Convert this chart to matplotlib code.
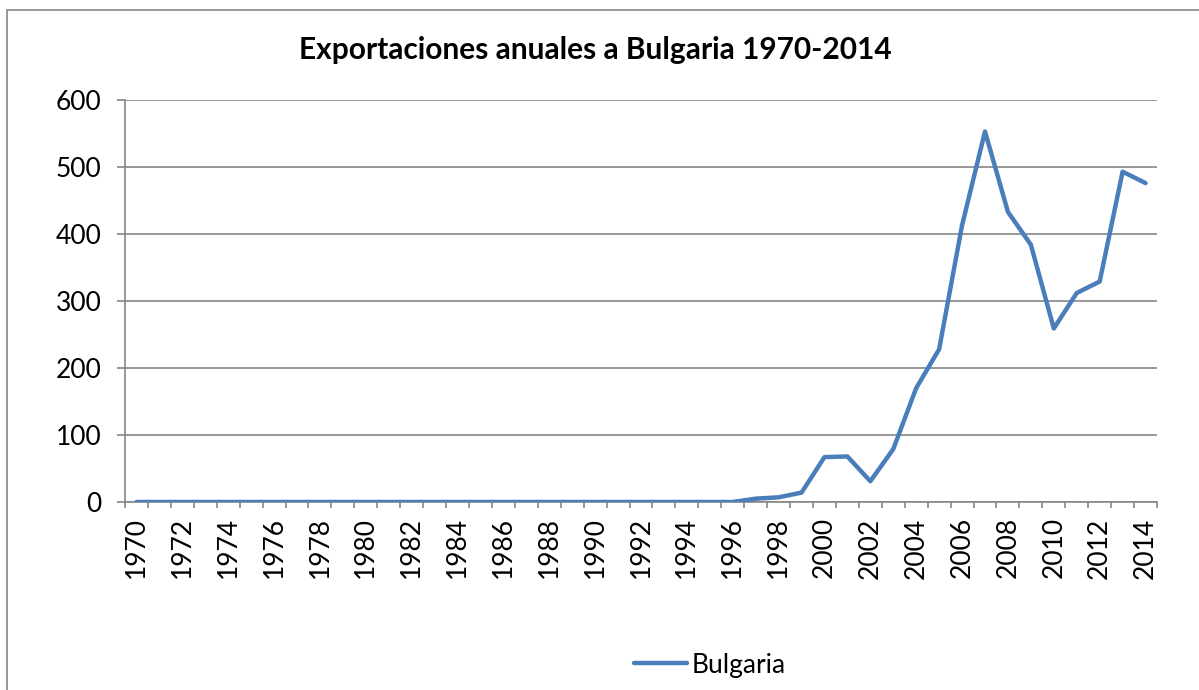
"""
Exportaciones anuales a Bulgaria 1970-2014 - line chart (Excel style)
"""

import matplotlib
matplotlib.use("Agg")
import matplotlib.pyplot as plt
from matplotlib.patches import Rectangle

# ─────────────────────────────────────────────
# Data
# ─────────────────────────────────────────────
years = list(range(1970, 2015))
exports = [0] * 27 + [          # 1970-1996
    5, 7, 14,                   # 1997-1999
    67, 68, 31, 79, 170,        # 2000-2004
    228, 413, 553, 433, 384,    # 2005-2009
    259, 312, 329, 493, 476,    # 2010-2014
]
series_name = "Bulgaria"
title = "Exportaciones anuales a Bulgaria 1970-2014"
y_ticks = [0, 100, 200, 300, 400, 500, 600]

plt.rcParams["font.family"] = ["Lato", "DejaVu Sans"]
GREY = "#868686"

# ─────────────────────────────────────────────
# Figure
# ─────────────────────────────────────────────
fig = plt.figure(figsize=(11.99, 6.90), dpi=100)
ax = fig.add_axes([125 / 1199, 1 - 502 / 690, (1157 - 125) / 1199, (502 - 100) / 690])

# chart border (right and bottom edges fall outside the picture)
fig.patches.append(Rectangle((7 / 1199, -0.1), 1.2, 1 - 10 / 690 + 0.1,
                             transform=fig.transFigure, fill=False,
                             edgecolor=GREY, linewidth=1.2))

x = list(range(len(years)))
ax.plot(x, exports, color="#4A7EBB", linewidth=3.2, solid_joinstyle="round",
        solid_capstyle="round", label=series_name, zorder=3)

ax.set_xlim(-0.5, len(years) - 0.5)
ax.set_ylim(0, 600)
ax.set_yticks(y_ticks)
ax.yaxis.grid(True, color=GREY, linewidth=1.2)
ax.set_axisbelow(True)

# category labels every 2 years, tick marks between categories
ax.set_xticks(x[::2])
ax.set_xticklabels([str(y) for y in years[::2]], rotation=90)
ax.set_xticks([i - 0.5 for i in range(len(years) + 1)], minor=True)
ax.tick_params(axis="x", which="major", length=0, pad=11, labelsize=19)
ax.tick_params(axis="x", which="minor", length=4.5, width=1.2, color=GREY, direction="out")
ax.tick_params(axis="y", length=5.8, width=1.2, color=GREY, pad=11, labelsize=19)

for side in ("top", "right"):
    ax.spines[side].set_visible(False)
for side in ("left", "bottom"):
    ax.spines[side].set_color(GREY)
    ax.spines[side].set_linewidth(1.2)

fig.text(595 / 1199, 1 - 50 / 690, title, ha="center", va="center",
         fontsize=21.5, fontweight="bold")

fig.legend(loc="center", bbox_to_anchor=(710 / 1199, 1 - 665 / 690), frameon=False,
           fontsize=19, handlelength=2.0, handletextpad=0.2)

fig.savefig("out.png", dpi=100)
